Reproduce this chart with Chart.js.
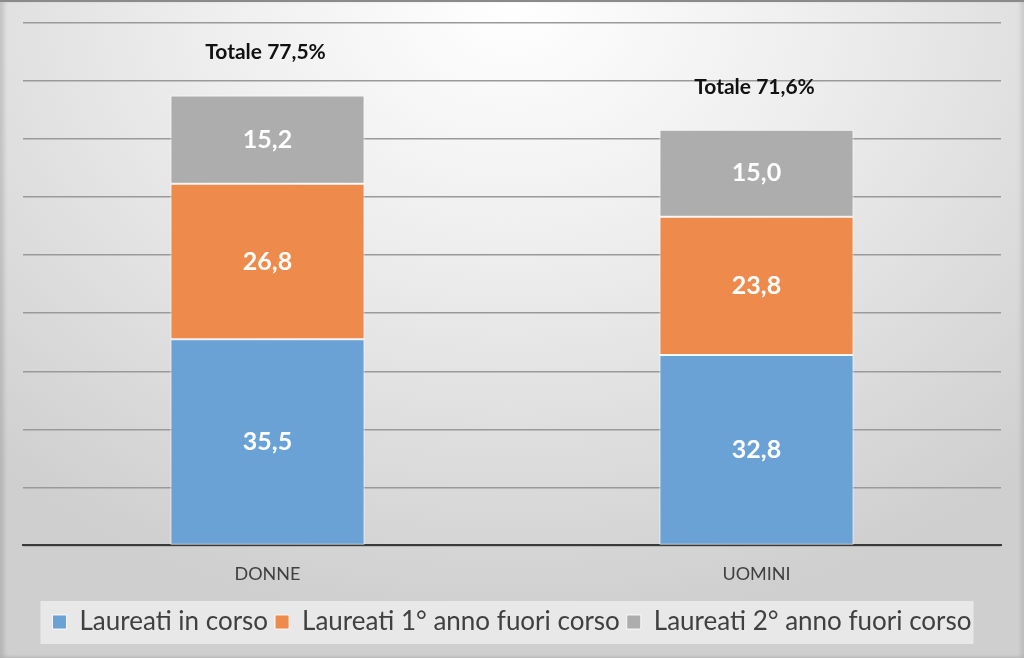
<!DOCTYPE html>
<html>
<head>
<meta charset="utf-8">
<script src="https://cdn.jsdelivr.net/npm/chart.js@4.4.1/dist/chart.umd.min.js"></script>
<style>
html,body{margin:0;padding:0;background:#fff;}
#wrap{position:relative;width:1024px;height:658px;overflow:hidden;
  background: radial-gradient(ellipse 75% 95% at 50% 0%, #ffffff 0%, #eeeeee 40%, #d9d9d9 80%, #cfcfcf 100%);
  box-shadow: inset 0 2px 0 #8a8a8a, inset 4px 0 4px rgba(0,0,0,0.12), inset -3px 0 4px rgba(0,0,0,0.10);}
canvas{position:absolute;left:0;top:0;}
</style>
</head>
<body>
<div id="wrap"><canvas id="c" width="1024" height="658"></canvas></div>
<script>
const categories = ['DONNE', 'UOMINI'];
const seriesNames = ['Laureati in corso', 'Laureati 1° anno fuori corso', 'Laureati 2° anno fuori corso'];
const inCorso = [35.5, 32.8];
const primoFuoriCorso = [26.8, 23.8];
const secondoFuoriCorso = [15.2, 15.0];
const totali = [77.5, 71.6];
const yMin = 0, yMax = 90, yStep = 10;

const colors = ['#6aa2d6', '#ee8b4c', '#adadad'];
const FONT = 'Lato, "Open Sans", sans-serif';

const fmt = v => v.toFixed(1).replace('.', ',');

const labelsPlugin = {
  id: 'labelsPlugin',
  beforeDraw(chart) {
    const lg = chart.legend;
    if (!lg || !lg.legendHitBoxes || !lg.legendHitBoxes.length) return;
    const hb = lg.legendHitBoxes;
    const left = hb[0].left - 12;
    const right = hb[hb.length - 1].left + hb[hb.length - 1].width + 2;
    const top = hb[0].top - 8;
    const bottom = hb[0].top + hb[0].height + 9;
    const ctx = chart.ctx;
    ctx.save();
    ctx.fillStyle = 'rgba(236,236,236,0.85)';
    ctx.fillRect(left, top, right - left, bottom - top);
    ctx.restore();
  },
  afterDatasetsDraw(chart) {
    const ctx = chart.ctx;
    ctx.save();
    ctx.textAlign = 'center';
    ctx.textBaseline = 'middle';
    chart.data.datasets.forEach((ds, di) => {
      const meta = chart.getDatasetMeta(di);
      meta.data.forEach((bar, i) => {
        const v = ds.data[i];
        ctx.fillStyle = '#ffffff';
        ctx.font = 'bold 25px ' + FONT;
        ctx.fillText(fmt(v), bar.x, (bar.y + bar.base) / 2);
      });
    });
    const lastMeta = chart.getDatasetMeta(chart.data.datasets.length - 1);
    lastMeta.data.forEach((bar, i) => {
      ctx.fillStyle = '#111111';
      ctx.font = 'bold 21px ' + FONT;
      ctx.fillText('Totale ' + fmt(totali[i]) + '%', bar.x - 2, bar.y - 43);
    });
    ctx.restore();
  }
};

new Chart(document.getElementById('c'), {
  type: 'bar',
  data: {
    labels: categories,
    datasets: [
      { label: seriesNames[0], data: inCorso, backgroundColor: colors[0] },
      { label: seriesNames[1], data: primoFuoriCorso, backgroundColor: colors[1] },
      { label: seriesNames[2], data: secondoFuoriCorso, backgroundColor: colors[2] }
    ].map(d => Object.assign(d, {
      borderColor: 'rgba(255,255,255,0.85)', borderWidth: 1, borderSkipped: false,
      barPercentage: 0.397, categoryPercentage: 1
    }))
  },
  options: {
    responsive: false,
    animation: false,
    devicePixelRatio: 1,
    layout: { padding: { left: 23, right: 23, top: 23, bottom: 13 } },
    plugins: {
      legend: {
        position: 'bottom',
        labels: {
          boxWidth: 14, boxHeight: 14, padding: 7,
          color: '#404040',
          font: { family: FONT, size: 26 }
        }
      },
      tooltip: { enabled: false }
    },
    scales: {
      x: {
        stacked: true,
        grid: { display: false, drawTicks: false },
        border: { display: true, color: '#3a3a3a', width: 2 },
        ticks: { color: '#404040', font: { family: FONT, size: 18 }, padding: 17.5 }
      },
      y: {
        stacked: true,
        min: yMin, max: yMax,
        ticks: { display: false, stepSize: yStep },
        grid: { color: '#9a9a9a', lineWidth: 1.5, drawTicks: false },
        border: { display: false }
      }
    }
  },
  plugins: [labelsPlugin]
});
</script>
</body>
</html>
